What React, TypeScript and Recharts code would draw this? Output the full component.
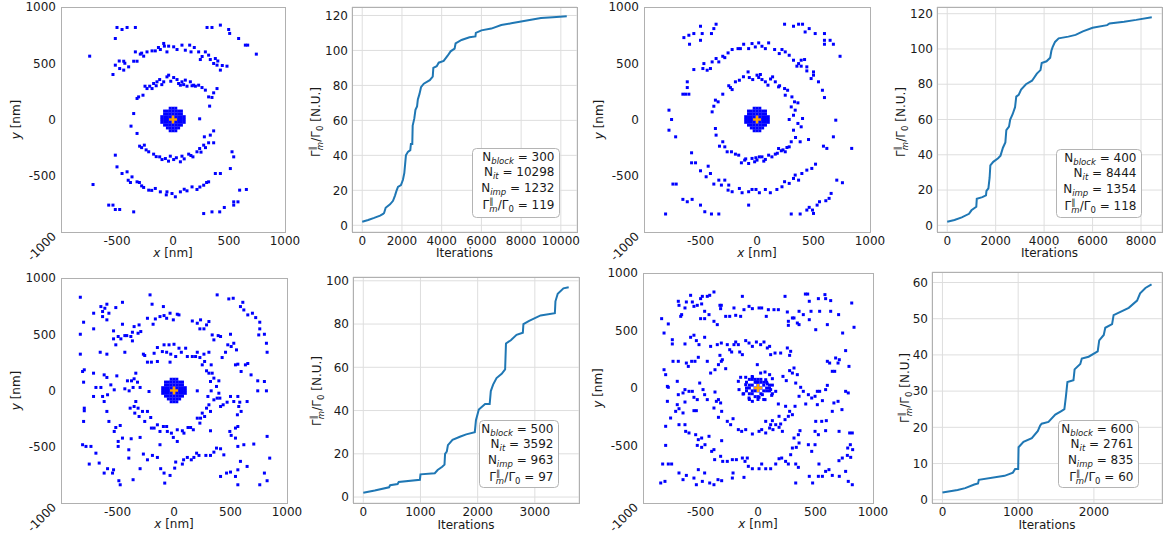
import React from 'react';
import { ScatterChart, Scatter, LineChart, Line, XAxis, YAxis, CartesianGrid } from 'recharts';

const FONT = '"DejaVu Sans", Verdana, sans-serif';
const BLUE = '#0000ff';
const ORANGE = '#ffa500';
const LINE_BLUE = '#1f77b4';
const FRAME = '#b0b0b0';
const GRID = '#dedede';
const INK = '#1a1a1a';

// ---- scatter data (nm) ----
const BLOB = [
  [-25, 100], [0, 100], [25, 100],
  [-75, 75], [-50, 75], [-25, 75], [0, 75], [25, 75], [50, 75], [75, 75],
  [-75, 50], [-50, 50], [-25, 50], [0, 50], [25, 50], [50, 50], [75, 50],
  [-100, 25], [-75, 25], [-50, 25], [-25, 25], [0, 25], [25, 25], [50, 25], [75, 25], [100, 25],
  [-100, 0], [-75, 0], [-50, 0], [-25, 0], [0, 0], [25, 0], [50, 0], [75, 0], [100, 0],
  [-100, -25], [-75, -25], [-50, -25], [-25, -25], [0, -25], [25, -25], [50, -25], [75, -25], [100, -25],
  [-75, -50], [-50, -50], [-25, -50], [0, -50], [25, -50], [50, -50], [75, -50],
  [-50, -75], [-25, -75], [0, -75], [25, -75], [50, -75],
  [-25, -100], [0, -100], [25, -100],
];

const BLOB_600 = [
  [-75, 75], [-50, 75], [-25, 75], [0, 75], [25, 75], [50, 50], [75, 50], [-100, 50], [-75, 25],
  [-100, 0], [-75, 0], [-100, -25], [-75, -50], [-50, -50], [-25, -75], [0, -75], [25, -50],
  [50, -25], [75, -25], [100, -25], [100, 0], [100, 25], [75, 0], [-50, 25], [-25, 0], [0, 25],
  [25, 0], [-25, -25], [0, -25], [-50, -25], [50, 25], [25, 50], [-25, 50], [0, 50],
  [-125, -50], [125, -50], [125, 25], [-50, 100], [0, -100], [50, -100], [-75, -100],
];

const ORIGIN = [[0, 0]];

const DOTS_300 = [
  [-500, 818], [-455, 800], [-410, 818], [-336, 818], [-515, 720], [-744, 563], [-536, 400],
  [304, 818], [348, 818], [423, 839], [497, 800], [506, 765], [586, 720], [646, 661], [667, 661], [744, 581],
  [-336, 601], [-292, 581], [-232, 601], [-187, 610], [-158, 610], [-113, 622], [-83, 676], [-77, 652],
  [-54, 601], [-39, 652], [6, 646], [36, 622], [80, 661], [110, 616], [149, 661], [161, 601], [229, 601],
  [244, 533], [289, 601], [318, 572], [333, 533], [378, 542], [363, 498], [393, 483], [423, 439], [482, 474],
  [-515, 483], [-440, 518], [-476, 453], [-440, 439], [-396, 468], [-351, 518], [-321, 518], [-262, 563],
  [-307, 201], [-268, 216], [-232, 275], [-208, 296], [-173, 320], [-143, 335], [-119, 355], [-83, 335],
  [-54, 379], [-39, 394], [6, 373], [36, 355], [80, 335], [110, 350], [155, 335], [184, 305], [229, 305],
  [259, 284], [289, 261], [318, 201], [348, 196], [327, 119], [-321, 187], [-187, 275], [66, 305], [125, 296],
  [-321, -124], [-298, -237], [-256, -228], [-217, -287], [-173, -308], [-119, -332], [-98, -356], [-68, -347],
  [-24, -326], [6, -356], [66, -376], [80, -326], [140, -308], [178, -332], [214, -287], [238, -258],
  [274, -228], [318, -207], [333, -139], [363, -101], [-351, 53], [-375, -59], [238, 6],
  [-515, -317], [-500, -421], [-455, -480], [-410, -465], [-366, -510], [-321, -554], [-262, -604],
  [-217, -628], [-158, -613], [-113, -643], [-54, -643], [-9, -658], [21, -687], [66, -643], [125, -634],
  [170, -599], [214, -622], [274, -584], [318, -554], [378, -480], [423, -480], [527, -287], [542, -332],
  [512, -436], [595, -628], [655, -622], [-714, -578], [363, -207],
  [-574, -761], [-536, -761], [-515, -800], [-476, -800], [-351, -821], [274, -836], [348, -821],
  [417, -821], [458, -782], [542, -761], [542, -732], [580, -732],
  [363, 237], [393, 275], [280, -154],
  [-250, 296], [-150, 300], [-100, 310], [-20, 340], [50, 320], [95, 310], [170, 300], [200, 296],
  [-280, -250], [-240, -270], [-150, -330], [-40, -370], [30, -340], [100, -350], [160, -320],
  [250, -290], [290, -250], [-400, -540], [-380, -560], [-280, -590], [-190, -630], [-60, -670],
  [100, -620], [240, -600], [300, -560], [-430, 500], [-480, 520], [-280, 590], [-130, 640],
  [190, 640], [260, 560], [400, 520], [440, 480], [-300, -560],
];

const DOTS_400 = [
  [-647, 728], [-603, 749], [-559, 764], [-597, 669], [-500, 829], [-485, 764], [-500, 704], [-382, 808],
  [-362, 847], [-403, 764],
  [244, 847], [323, 829], [368, 847], [403, 847], [426, 778], [462, 808], [515, 764], [597, 764],
  [597, 704], [597, 669], [647, 704], [676, 669], [735, 562],
  [-559, 444], [-470, 497], [-479, 453], [-441, 438], [-412, 453], [-397, 512], [-362, 542], [-338, 512],
  [-303, 562], [-285, 550], [-256, 592], [-220, 622], [-168, 630], [-147, 630], [-118, 669], [-74, 630],
  [-44, 675], [-15, 645], [15, 681], [44, 651], [74, 630], [103, 681], [156, 622], [197, 586], [221, 622],
  [250, 601], [285, 571], [323, 527], [353, 474], [391, 527], [421, 533], [441, 432], [500, 423],
  [500, 394], [479, 364], [544, 335], [579, 260], [597, 195], [368, 497], [391, 474], [441, 468],
  [-617, 335], [-617, 284], [-632, 225], [-656, 225], [-603, 225], [-779, 83], [-756, 0], [-779, -95],
  [-720, -154],
  [-397, 68], [-382, 118], [-368, 172], [-344, 157], [-303, 225], [-235, 284], [-220, 266], [-191, 335],
  [-156, 349], [-79, 423], [-68, 373], [-38, 355], [0, 394], [15, 373], [44, 355], [74, 335], [97, 305],
  [138, 379], [162, 335], [191, 290], [244, 275], [271, 260], [250, 216], [309, 201], [332, 157],
  [303, 112], [362, 148], [338, 83], [285, 0], [323, 38], [403, 9], [362, -35], [391, -65], [323, -95],
  [341, -160], [382, -198], [303, -198], [285, -243], [265, -249], [250, -287], [215, -278], [191, -258],
  [162, -308], [132, -332], [103, -317], [74, -355], [44, -332], [21, -332], [0, -361], [-21, -376],
  [-44, -346], [-74, -391], [-109, -361], [-138, -385], [-162, -317], [-191, -308], [-226, -287],
  [-264, -287], [-285, -243], [-332, -237], [-303, -198], [-362, -139], [-368, -80], [456, -178],
  [-579, -296], [-579, -385], [-544, -385], [-500, -456], [-432, -415], [-412, -480], [-450, -509],
  [-382, -574], [-338, -539], [-315, -583], [-285, -539], [-250, -583], [-256, -628], [-220, -642],
  [-156, -613], [-132, -651], [-74, -642], [-44, -622], [-9, -622], [21, -651], [74, -622], [118, -651],
  [176, -622], [221, -598], [244, -553], [285, -568], [323, -524], [338, -494], [368, -539], [397, -480],
  [441, -450], [485, -435], [518, -397], [-744, -574], [-715, -574], [-74, -761], [588, -237],
  [676, -154], [697, -6], [618, -257], [838, -257],
  [706, -539], [756, -562], [656, -657], [638, -701], [609, -722], [553, -731], [532, -761], [491, -805],
  [462, -781], [500, -835], [441, -805], [382, -840], [303, -840],
  [-656, -710], [-617, -731], [-574, -710], [-500, -761], [-462, -820], [-403, -840], [-338, -840],
  [-809, -840],
  [-250, 300], [-120, 380], [30, 400], [120, 360], [200, 300], [-10, -340], [60, -370], [-100, -350],
  [180, -300], [230, -270],
];

const DOTS_500 = [
  [-829, 829], [-800, 607], [-829, 500], [-829, 323], [-809, 169], [-794, 184], [-711, 548], [-711, 687],
  [-647, 746], [-632, 702], [-632, 657], [-612, 731], [-594, 767], [-576, 687], [-594, 628], [-653, 340],
  [-594, 323], [-515, 737], [-456, 784], [-456, 589], [-535, 530], [-535, 459], [-515, 406], [-494, 480],
  [-470, 459], [-435, 488], [-418, 488], [-435, 340], [-382, 480], [-368, 441], [-368, 518], [-353, 568],
  [-309, 583], [-318, 509], [-294, 524], [-271, 323], [-259, 311], [-235, 252], [-200, 252], [-235, 642],
  [-212, 850], [-194, 767], [-185, 589], [-165, 636], [-124, 657], [-94, 746], [-88, 666], [-65, 642],
  [-35, 687], [-6, 628], [29, 678], [44, 672], [-88, 406], [-103, 346], [-65, 340], [-44, 406],
  [-29, 323], [0, 411], [15, 302], [44, 376], [65, 340], [103, 376], [118, 302], [162, 302], [191, 302],
  [206, 340], [229, 293], [265, 323], [309, 340], [-35, 252], [-147, 382], [-176, 331], [-147, 258],
  [-338, 154], [-353, 104], [-376, 86], [-412, 86], [-435, 15], [-397, -3], [-362, 27], [-323, 74],
  [-300, 27], [-338, -98], [-353, -142], [-318, -157], [-388, -157], [-347, -201], [-309, -231],
  [-279, -186], [-259, -275], [-235, -186], [-206, -240], [-200, -334], [-176, -334], [-147, -305],
  [-124, -364], [-94, -320], [-65, -320], [-59, -364], [-23, -379], [-6, -417], [29, -349], [74, -358],
  [88, -379], [124, -329], [147, -329], [171, -349], [206, -246], [235, -246], [229, -290], [250, -201],
  [271, -231], [288, -157], [309, -127], [323, -358], [323, -186], [300, -53], [329, -3], [206, -3],
  [-221, -9],
  [271, 258], [250, 228], [288, 175], [309, 154], [323, 80], [353, 110], [376, 36], [397, 86], [397, -24],
  [382, -68], [406, -68], [353, -83], [338, 154], [329, 228],
  [229, 548], [265, 548], [288, 583], [309, 613], [235, 628], [206, 598], [162, 618], [338, 494],
  [353, 450], [391, 488], [412, 480], [426, 293], [456, 340], [476, 406], [506, 391], [500, 500],
  [529, 420], [553, 361], [565, 234], [544, 228], [594, 169], [632, 228], [653, 240], [682, 139],
  [741, 86], [741, -3], [818, -3], [800, 80], [824, 340], [818, 420], [800, 500], [750, 494], [759, 548],
  [759, 607], [723, 648], [653, 672], [618, 716], [588, 746], [609, 784], [524, 820], [485, 814],
  [382, 850], [694, 687],
  [500, -53], [529, -98], [565, -53], [582, -104], [573, -142], [594, -186], [561, -216], [647, -98],
  [435, -127], [412, -142], [470, -104], [494, -364], [506, -399], [544, -334], [565, -320], [544, -423],
  [565, -497], [618, -482], [706, -476], [824, -408], [847, -601], [800, -734], [824, -802], [759, -838],
  [647, -675], [588, -630], [565, -705], [544, -764], [565, -838], [500, -725], [465, -734], [412, -764],
  [441, -572], [412, -518], [376, -512], [353, -548], [323, -577], [282, -577], [221, -577], [200, -557],
  [176, -595], [153, -616], [118, -595], [85, -616], [74, -654], [15, -636], [6, -690], [-35, -755],
  [-88, -734], [-82, -823], [-118, -695], [-147, -595], [-191, -577], [-235, -616], [-271, -565],
  [-300, -695], [-362, -793], [-400, -601], [-400, -527], [-379, -429], [-456, -423], [-494, -453],
  [-529, -364], [-515, -329], [-494, -497], [-476, -311], [-535, -705], [-544, -734], [-488, -802],
  [-476, -838], [-588, -695], [-618, -734], [-662, -645], [-691, -557], [-735, -497], [-750, -654],
  [-809, -482], [-779, -497], [-800, -275], [-794, -157], [-794, -180], [-712, -53], [-691, 27],
  [-647, 27], [-632, -53], [-618, -98], [-594, -186], [-576, -275], [-618, 139], [-594, 116],
  [-506, 130], [-559, 50], [-529, 6], [-712, 154], [-800, 74], [-588, -38], [-300, -417], [-124, -482],
  [29, -453],
];

const DOTS_600 = [
  [-838, 603], [-817, 478], [-780, 557], [-693, 754], [-687, 719], [-672, 623], [-664, 638], [-635, 696],
  [-623, 748], [-586, 806], [-571, 748], [-557, 710], [-528, 719], [-499, 777], [-490, 731], [-484, 797],
  [-441, 797], [-420, 806], [-383, 835], [-499, 603], [-464, 603], [-464, 667], [-426, 638], [-383, 580],
  [-354, 551], [-331, 719], [-319, 719], [-325, 690], [-281, 623], [-246, 623], [-209, 696], [-194, 632],
  [-151, 623], [-136, 797], [-122, 681], [-78, 710], [-49, 690], [9, 696], [32, 696], [72, 623],
  [139, 681], [177, 681], [235, 797], [255, 661], [264, 580], [264, 545], [313, 609], [342, 565],
  [357, 551], [394, 638], [412, 817], [432, 817], [446, 754], [461, 667], [502, 507], [525, 777],
  [536, 667], [582, 812], [588, 777], [632, 760], [632, 667], [603, 551], [701, 638], [736, 478],
  [815, 739], [835, 528], [446, 594], [357, 667], [299, 609], [90, 681],
  [-745, 420], [-745, 383], [-635, 383], [-586, 441], [-557, 459], [-536, 412], [-513, 377], [-464, 441],
  [-412, 362], [-354, 377], [-319, 391], [-331, 284], [-267, 377], [-246, 333], [-229, 313], [-209, 377],
  [-194, 400], [-171, 377], [-159, 313], [-136, 290], [-107, 412], [-78, 391], [-49, 362], [-14, 400],
  [23, 377], [52, 400], [81, 348], [101, 362], [110, 290], [148, 304], [197, 304], [255, 348], [284, 319],
  [275, 284], [-739, 232], [-693, 232], [-623, 217], [-606, 188], [-577, 232], [-548, 232], [-519, 267],
  [-441, 232], [-412, 130], [-374, 159], [-344, 203], [-319, 232], [-281, 168], [-310, 246],
  [-817, 159], [-803, 116], [-788, 14], [-780, 6], [-788, -116], [-760, -261], [-803, -333], [-702, 58],
  [-693, -58], [-702, -145], [-687, -180], [-652, -43], [-635, -14], [-600, -29], [-571, -29], [-557, -81],
  [-528, -101], [-557, -197], [-536, -197], [-507, 43], [-478, -14], [-464, -58], [-441, -101], [-374, -35],
  [-344, -101], [-383, -174], [-362, -116], [-325, -130], [-316, -203], [-344, -255], [-267, -290],
  [-238, -319], [-217, -267], [-171, -362], [-142, -377], [-107, -362], [-49, -400], [9, -377], [32, -362],
  [67, -391], [101, -348], [130, -362], [154, -319], [183, -342], [197, -313], [235, -275], [264, -246],
  [275, -203], [299, -232], [322, -159], [357, -72], [394, -29], [371, 6], [328, 43], [342, 116],
  [299, 130], [275, 151], [217, 101], [246, 64], [313, 174], [125, -284], [110, -319], [67, -290],
  [177, -139],
  [516, -29], [536, -29], [588, -14], [603, 23], [603, 232], [623, 217], [646, 145], [667, 145], [675, 261],
  [696, 217], [707, 246], [762, 325], [791, 188], [762, -29], [785, -43], [696, -116], [730, -188],
  [660, -130], [646, -203], [560, -110], [516, -145], [496, -72], [467, -87], [438, -58], [415, -139],
  [502, -290], [554, -290], [594, -284], [496, -377], [525, -406], [588, -371], [705, -377], [797, -391],
  [820, -391], [803, -493], [823, -536], [780, -522], [777, -586], [806, -603], [733, -609], [704, -632],
  [617, -710], [588, -725], [560, -768], [525, -768], [446, -768], [475, -826], [530, -661], [646, -760],
  [707, -768], [785, -812], [820, -841], [762, -725],
  [-846, -826], [-809, -812], [-829, -661], [-780, -661], [-751, -661], [-803, -499], [-687, -739],
  [-652, -797], [-623, -760], [-557, -783], [-536, -841], [-519, -710], [-484, -812], [-464, -739],
  [-420, -826], [-383, -841], [-348, -797], [-316, -806], [-377, -623], [-325, -594], [-307, -638],
  [-267, -638], [-223, -623], [-188, -623], [-217, -739], [-136, -609], [-113, -638], [-93, -609],
  [-84, -681], [-49, -702], [9, -702], [32, -661], [67, -702], [110, -702], [154, -661], [183, -615],
  [206, -609], [240, -638], [264, -661], [328, -661], [351, -690], [328, -826], [284, -580], [299, -522],
  [333, -516], [357, -478], [313, -435], [351, -406], [365, -371], [438, -493], [467, -551], [496, -493],
  [-542, -406], [-519, -449], [-490, -435], [-461, -493], [-426, -420], [-403, -551], [-383, -536],
  [-316, -458], [-490, -516], [-528, -499], [-629, -377], [-687, -319], [-635, -319], [-600, -391],
  [-716, -203], [-652, -217], [-635, -122], [-223, -783], [-122, -777], [212, -377], [183, -246],
  [240, -159],
  [-151, 93], [-107, 93], [-49, 93], [-6, 203], [23, 130], [61, 139], [101, 116], [125, 81], [81, 35],
  [110, -14], [154, -29], [119, -64], [61, -101], [9, -81], [-49, -116], [-78, -87], [-130, -52],
  [-165, -14], [-171, 58], [-107, 29], [-14, 52], [67, 72], [38, -58],
];

// ---- convergence curves: [iteration, Gamma/Gamma0] ----
const CURVE_300 = [
  [0, 2], [300, 3], [600, 4.2], [900, 5.5], [1050, 6.5], [1100, 7], [1180, 10], [1400, 12], [1550, 14],
  [1650, 17], [1720, 19.5], [1800, 22], [1950, 23], [2050, 26], [2120, 30], [2160, 35], [2200, 40],
  [2300, 42], [2420, 43], [2450, 46.5], [2520, 46.5], [2540, 57], [2620, 61], [2680, 66], [2760, 68],
  [2800, 72], [2880, 75], [2960, 79], [3100, 81], [3400, 83], [3550, 85], [3580, 90], [3750, 91],
  [3850, 93], [4100, 94], [4300, 97], [4450, 99.5], [4650, 101], [4700, 104], [5000, 106], [5400, 107.5],
  [5700, 108], [5720, 110], [6000, 111.5], [6500, 112.5], [7000, 114.5], [7500, 115.5], [8000, 116.5],
  [8500, 117.5], [9000, 118.5], [9600, 119], [10298, 119.5],
];

const CURVE_400 = [
  [0, 2], [300, 3], [600, 4.5], [900, 6.5], [1000, 8.5], [1200, 10.5], [1220, 15], [1450, 16], [1600, 17],
  [1620, 19.5], [1700, 21], [1750, 27], [1780, 34], [1900, 36], [2100, 38], [2200, 39.5], [2300, 44],
  [2400, 47], [2440, 54], [2550, 56], [2600, 60], [2700, 63], [2800, 67], [2850, 73], [2950, 74],
  [3050, 77], [3250, 80], [3500, 82], [3700, 86], [3850, 88], [3900, 92], [4100, 93], [4250, 95],
  [4300, 99], [4350, 101], [4450, 104], [4600, 106], [5000, 107], [5300, 108], [5600, 110], [6000, 112],
  [6600, 113.5], [6700, 114.5], [7300, 115.5], [7800, 116.5], [8444, 118],
];

const CURVE_500 = [
  [0, 2], [200, 3], [450, 4.5], [470, 5.5], [600, 6], [620, 7], [990, 8], [1000, 10.5], [1250, 11],
  [1300, 12.5], [1380, 14], [1420, 15], [1430, 20], [1460, 21], [1480, 24], [1560, 26.5], [1700, 28],
  [1800, 29], [1950, 30], [1970, 35.5], [2020, 40.5], [2130, 43], [2210, 43], [2230, 49], [2270, 52],
  [2330, 55], [2420, 57], [2480, 59], [2495, 71], [2580, 72.5], [2680, 75], [2790, 76], [2800, 80],
  [2900, 81.5], [3100, 84], [3350, 85], [3360, 90.5], [3400, 94], [3500, 96.5], [3592, 97],
];

const CURVE_600 = [
  [0, 2], [200, 2.7], [300, 3.2], [420, 4.2], [470, 4.5], [480, 5.5], [820, 6.6], [930, 7.5], [960, 8.5],
  [1000, 8.5], [1005, 14.5], [1070, 16], [1180, 17], [1260, 19], [1290, 20.5], [1310, 21], [1400, 21.5],
  [1490, 23.5], [1570, 24.5], [1610, 25], [1630, 28.5], [1650, 32.5], [1730, 33], [1745, 36], [1820, 37.5],
  [1840, 39], [1930, 39.5], [2050, 41], [2070, 44], [2130, 45.5], [2150, 47.5], [2240, 48.5], [2260, 51],
  [2460, 53], [2570, 55], [2610, 57], [2680, 58.5], [2761, 59.5],
];

// tick sets
const NM_X_TICKS = [-500, 0, 500, 1000];
const NM_Y_TICKS = [-1000, -500, 0, 500, 1000];

type Box = { x: number; y: number; w: number; h: number };
const YW = 60;
const XH = 40;
const MT = 10;
const MR = 24;

const toXY = (arr: number[][]) => arr.map(([x, y]) => ({ x, y }));

const square = (p: any) => <rect x={p.cx - 1.5} y={p.cy - 1.5} width={3} height={3} fill={BLUE} />;
const plus = (p: any) => (
  <g stroke={ORANGE} strokeWidth={2.4}>
    <line x1={p.cx - 4} x2={p.cx + 4} y1={p.cy} y2={p.cy} />
    <line x1={p.cx} x2={p.cx} y1={p.cy - 4} y2={p.cy + 4} />
  </g>
);

function NmYTick(props: any) {
  const { x, y, payload } = props;
  if (payload.value === -1000) {
    return (
      <text x={x + 1} y={y + 5} transform={`rotate(-45 ${x + 1} ${y + 5})`} textAnchor="end"
        fontSize={12} fontFamily={FONT} fill={INK}>-1000</text>
    );
  }
  return (
    <text x={x} y={y} dy={4.3} textAnchor="end" fontSize={12} fontFamily={FONT} fill={INK}>{payload.value}</text>
  );
}

const tickStyle = { fontSize: 12, fontFamily: FONT, fill: INK };

function ScatterPanel({ box, dots, blob }: { box: Box; dots: number[][]; blob: number[][] }) {
  return (
    <div style={{ position: 'absolute', left: box.x - YW, top: box.y - MT }}>
      <ScatterChart width={box.w + YW + MR} height={box.h + XH + MT} margin={{ top: MT, right: MR, bottom: 0, left: 0 }}>
        <XAxis type="number" dataKey="x" domain={[-1000, 1000]} ticks={NM_X_TICKS} interval={0} height={XH}
          axisLine={false} tickLine={false} tickSize={0} tickMargin={4} tick={tickStyle} allowDataOverflow />
        <YAxis type="number" dataKey="y" domain={[-1000, 1000]} ticks={NM_Y_TICKS} interval={0} width={YW}
          axisLine={false} tickLine={false} tickSize={0} tickMargin={5} tick={(p: any) => <NmYTick {...p} />} allowDataOverflow />
        <Scatter data={toXY(dots)} shape={square} isAnimationActive={false} />
        <Scatter data={toXY(blob)} shape={square} isAnimationActive={false} />
        <Scatter data={toXY(ORIGIN)} shape={plus} isAnimationActive={false} />
      </ScatterChart>
    </div>
  );
}

function CurvePanel({ box, curve, xDomain, xTicks, yDomain, yTicks }: {
  box: Box; curve: number[][]; xDomain: number[]; xTicks: number[]; yDomain: number[]; yTicks: number[];
}) {
  return (
    <div style={{ position: 'absolute', left: box.x - YW, top: box.y - MT }}>
      <LineChart width={box.w + YW + MR} height={box.h + XH + MT} data={toXY(curve)}
        margin={{ top: MT, right: MR, bottom: 0, left: 0 }}>
        <CartesianGrid stroke={GRID} />
        <XAxis type="number" dataKey="x" domain={xDomain} ticks={xTicks} interval={0} height={XH}
          axisLine={false} tickLine={false} tickSize={0} tickMargin={4} tick={tickStyle} allowDataOverflow />
        <YAxis type="number" domain={yDomain} ticks={yTicks} interval={0} width={YW}
          axisLine={false} tickLine={false} tickSize={0} tickMargin={4} tick={tickStyle} allowDataOverflow />
        <Line type="linear" dataKey="y" stroke={LINE_BLUE} strokeWidth={2} dot={false} isAnimationActive={false} />
      </LineChart>
    </div>
  );
}

const P1: Box = { x: 61, y: 7, w: 224, h: 225 };
const P2: Box = { x: 352, y: 7, w: 225, h: 225 };
const P3: Box = { x: 644, y: 7, w: 226, h: 225 };
const P4: Box = { x: 937, y: 7, w: 225, h: 225 };
const P5: Box = { x: 61, y: 278, w: 226, h: 225 };
const P6: Box = { x: 353, y: 277, w: 226, h: 226 };
const P7: Box = { x: 643, y: 273, w: 230, h: 230 };
const P8: Box = { x: 932, y: 272, w: 230, h: 231 };

function GammaRatio() {
  return (
    <>
      <tspan>Γ</tspan>
      <tspan dy={3} fontSize={8.5} fontStyle="italic">m</tspan>
      <tspan dx={-8.2} dy={-8.5} fontSize={8.5}>∥</tspan>
      <tspan dx={4.2} dy={5.5}>/Γ</tspan>
      <tspan dy={3} fontSize={8.5}>0</tspan>
      <tspan dy={-3}> </tspan>
    </>
  );
}

function StatBox({ x, y, w, h, vals }: { x: number; y: number; w: number; h: number; vals: number[] }) {
  const rx = x + w - 4.5;
  return (
    <g fontFamily={FONT} fontSize={12} fill={INK}>
      <rect x={x + 0.5} y={y + 0.5} width={w} height={h} rx={4} fill="#fff" stroke="#b4b4b4" />
      <text x={rx} y={y + 12.5} textAnchor="end">N<tspan dy={3} fontSize={8.5} fontStyle="italic">block</tspan><tspan dy={-3}> = {vals[0]}</tspan></text>
      <text x={rx} y={y + 28} textAnchor="end">N<tspan dy={3} fontSize={8.5} fontStyle="italic">it</tspan><tspan dy={-3}> =  {vals[1]}</tspan></text>
      <text x={rx} y={y + 43.5} textAnchor="end">N<tspan dy={3} fontSize={8.5} fontStyle="italic">imp</tspan><tspan dy={-3}> =  {vals[2]}</tspan></text>
      <text x={rx} y={y + 61} textAnchor="end"><GammaRatio /><tspan>=  {vals[3]}</tspan></text>
    </g>
  );
}

function XLabel({ x, y, italic, rest }: { x: number; y: number; italic?: string; rest: string }) {
  return (
    <text x={x} y={y} textAnchor="middle" fontFamily={FONT} fontSize={12} fill={INK}>
      {italic ? <tspan fontStyle="italic">{italic}</tspan> : null}{rest}
    </text>
  );
}

function NmYLabel({ x, y }: { x: number; y: number }) {
  return (
    <text transform={`translate(${x},${y}) rotate(-90)`} textAnchor="middle" fontFamily={FONT} fontSize={12} fill={INK}>
      <tspan fontStyle="italic">y</tspan> [nm]
    </text>
  );
}

function GammaYLabel({ x, y }: { x: number; y: number }) {
  return (
    <text transform={`translate(${x},${y}) rotate(-90)`} textAnchor="middle" fontFamily={FONT} fontSize={12} fill={INK}>
      <GammaRatio /><tspan>[N.U.]</tspan>
    </text>
  );
}

const frame = (b: Box) => (
  <rect key={`${b.x}-${b.y}`} x={b.x + 0.5} y={b.y + 0.5} width={b.w} height={b.h} fill="none" stroke={FRAME} strokeWidth={1} />
);

export default function App() {
  return (
    <div style={{ position: 'absolute', left: 0, top: 0, width: 1171, height: 536, background: '#fff', overflow: 'hidden' }}>
      <ScatterPanel box={P1} dots={DOTS_300} blob={BLOB} />
      <CurvePanel box={P2} curve={CURVE_300} xDomain={[-515, 10813]} xTicks={[0, 2000, 4000, 6000, 8000, 10000]}
        yDomain={[-3.85, 124.85]} yTicks={[0, 20, 40, 60, 80, 100, 120]} />
      <ScatterPanel box={P3} dots={DOTS_400} blob={BLOB} />
      <CurvePanel box={P4} curve={CURVE_400} xDomain={[-422, 8866]} xTicks={[0, 2000, 4000, 6000, 8000]}
        yDomain={[-3.8, 123.8]} yTicks={[0, 20, 40, 60, 80, 100, 120]} />
      <ScatterPanel box={P5} dots={DOTS_500} blob={BLOB} />
      <CurvePanel box={P6} curve={CURVE_500} xDomain={[-180, 3772]} xTicks={[0, 1000, 2000, 3000]}
        yDomain={[-2.75, 101.75]} yTicks={[0, 20, 40, 60, 80, 100]} />
      <ScatterPanel box={P7} dots={DOTS_600} blob={BLOB_600} />
      <CurvePanel box={P8} curve={CURVE_600} xDomain={[-138, 2899]} xTicks={[0, 1000, 2000]}
        yDomain={[-0.9, 62.9]} yTicks={[0, 10, 20, 30, 40, 50, 60]} />

      <svg width={1171} height={536} style={{ position: 'absolute', left: 0, top: 0, pointerEvents: 'none' }}>
        {[P1, P2, P3, P4, P5, P6, P7, P8].map(frame)}

        <NmYLabel x={19.5} y={119.5} />
        <NmYLabel x={603} y={119.5} />
        <NmYLabel x={19.5} y={390.5} />
        <NmYLabel x={602} y={388} />

        <GammaYLabel x={320} y={122} />
        <GammaYLabel x={905} y={122} />
        <GammaYLabel x={321} y={391} />
        <GammaYLabel x={909} y={388} />

        <XLabel x={173} y={257} italic="x" rest=" [nm]" />
        <XLabel x={757} y={257} italic="x" rest=" [nm]" />
        <XLabel x={174} y={528} italic="x" rest=" [nm]" />
        <XLabel x={758} y={528} italic="x" rest=" [nm]" />

        <XLabel x={464.5} y={257} rest="Iterations" />
        <XLabel x={1049.5} y={257} rest="Iterations" />
        <XLabel x={466} y={529} rest="Iterations" />
        <XLabel x={1047} y={528.5} rest="Iterations" />

        <StatBox x={472} y={148} w={87} h={69} vals={[300, 10298, 1232, 119]} />
        <StatBox x={1056} y={149} w={85} h={68} vals={[400, 8444, 1354, 118]} />
        <StatBox x={479} y={420} w={79} h={67} vals={[500, 3592, 963, 97]} />
        <StatBox x={1058} y={420} w={80} h={67} vals={[600, 2761, 835, 60]} />
      </svg>
    </div>
  );
}
